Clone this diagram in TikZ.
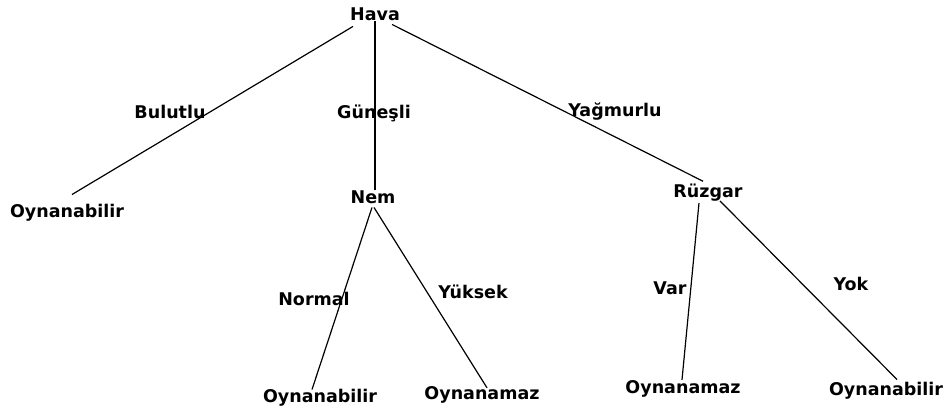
\documentclass[tikz,border=0pt]{standalone}
\usepackage{fontspec}
\setmainfont{DejaVu Sans}
\begin{document}
\begin{tikzpicture}[x=1pt,y=-1pt,
  lbl/.style={font=\bfseries\fontsize{17.5}{20}\selectfont, inner sep=0pt, anchor=base},
  edge/.style={line width=1.2pt, black}]
\useasboundingbox (0,0) rectangle (947,409);
% nodes
\node[lbl] (hava) at (375,21) {Hava};
\node[lbl] (bul) at (170,119) {Bulutlu};
\node[lbl] (gun) at (374,119) {Güneşli};
\node[lbl] (yag) at (615,117) {Yağmurlu};
\node[lbl] (ob1) at (67,217) {Oynanabilir};
\node[lbl] (nem) at (373,203) {Nem};
\node[lbl] (ruz) at (708,197) {Rüzgar};
\node[lbl] (nor) at (314,305) {Normal};
\node[lbl] (yuk) at (473,298) {Yüksek};
\node[lbl] (var) at (670,294) {Var};
\node[lbl] (yok) at (851,290) {Yok};
\node[lbl] (ob2) at (320,402) {Oynanabilir};
\node[lbl] (on2) at (482,399) {Oynanamaz};
\node[lbl] (on3) at (683,393) {Oynanamaz};
\node[lbl] (ob3) at (886,395) {Oynanabilir};
% connectors
\draw[edge] ([xshift=3pt,yshift=-5pt]hava.south west) -- ([xshift=5pt,yshift=9pt]ob1.north);
\draw[edge] (hava.south) -- (hava.south |- nem.north);
\draw[edge] ([xshift=-8pt,yshift=-3pt]hava.south east) -- ([xshift=-5pt,yshift=2pt]ruz.north);
\draw[edge] ([xshift=-1pt,yshift=-4pt]nem.south) -- ([xshift=-8pt,yshift=-1pt]ob2.north);
\draw[edge] ([xshift=1pt,yshift=-4pt]nem.south) -- ([xshift=5pt,yshift=-2pt]on2.north);
\draw[edge] ([xshift=-9pt,yshift=-2pt]ruz.south) -- ([xshift=-1pt]on3.north);
\draw[edge] ([xshift=12pt]ruz.south) -- ([xshift=11pt,yshift=2pt]ob3.north);
\end{tikzpicture}
\end{document}
